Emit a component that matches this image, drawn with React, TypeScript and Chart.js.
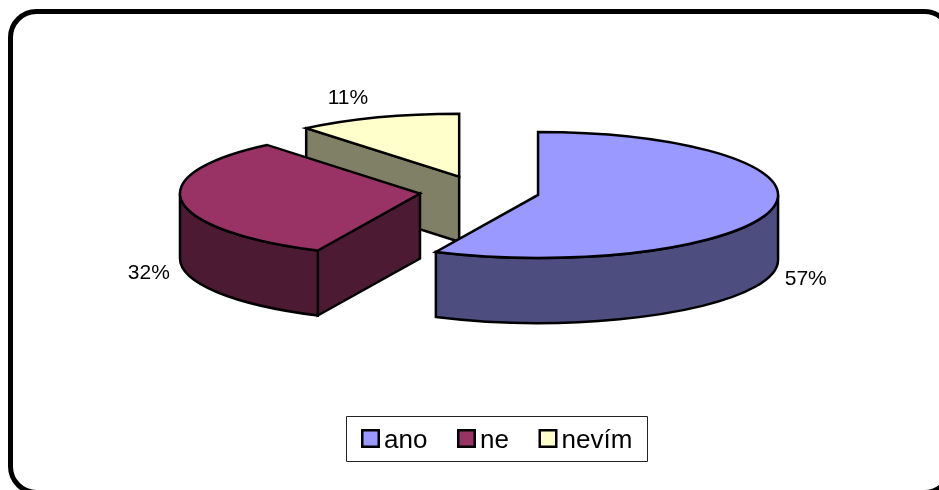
import React, { useEffect, useRef } from "react";
import { Chart, registerables } from "chart.js";

Chart.register(...registerables);

const categories = ["ano", "ne", "nevím"];
const shares = [57, 32, 11];
const sliceColors = ["#9999FF", "#993366", "#FFFFCC"];

const FONT = '"Liberation Sans", Arial, sans-serif';
const TILT = 0.2625; // vertical squash of the pie disc
const DEPTH = 65; // height of the extruded wall
const EXPLODE = 60; // how far slices are pulled from the centre
const CENTER_Y = 191.5;
const OUTLINE = 2.5;
// Label offsets from the outer rim of each slice's middle angle
const LABEL_SHIFT: [number, number][] = [
  [33.5, 71],
  [-33, 72],
  [-30, -19],
];

const shade = (hex: string) => {
  const n = parseInt(hex.slice(1), 16);
  const half = (v: number) => Math.round(v / 2);
  return `rgb(${half((n >> 16) & 255)},${half((n >> 8) & 255)},${half(n & 255)})`;
};

// Frame with rounded corners that runs off the right and bottom edges
const framePlugin = {
  id: "frame",
  beforeDraw(chart: Chart) {
    const ctx = chart.ctx;
    ctx.save();
    ctx.fillStyle = "#FFFFFF";
    ctx.fillRect(0, 0, chart.width, chart.height);
    ctx.beginPath();
    ctx.roundRect(10.5, 11.5, 940, 481, 26);
    ctx.lineWidth = 5;
    ctx.strokeStyle = "#000000";
    ctx.stroke();
    ctx.restore();
  },
};

// Draws the pie's arc elements as tilted, exploded, extruded slices
const pie3dPlugin = {
  id: "pie3d",
  beforeDatasetsDraw(chart: Chart) {
    const ctx = chart.ctx;
    const arcs = chart.getDatasetMeta(0).data as any[];
    const colors = chart.data.datasets[0].backgroundColor as string[];

    const slices = arcs.map((arc, i) => {
      const { startAngle, endAngle, x, outerRadius } = arc.getProps(
        ["startAngle", "endAngle", "x", "outerRadius"],
        true,
      );
      const mid = (startAngle + endAngle) / 2;
      return {
        i,
        start: startAngle,
        end: endAngle,
        mid,
        rx: outerRadius,
        ry: outerRadius * TILT,
        cx: x + Math.cos(mid) * EXPLODE,
        cy: CENTER_Y + Math.sin(mid) * EXPLODE * TILT,
      };
    });

    ctx.save();
    ctx.lineJoin = "miter";
    ctx.lineWidth = OUTLINE;
    ctx.strokeStyle = "#000000";

    // Painted back to front: the last slice sits furthest from the viewer
    [...slices].reverse().forEach((s) => {
      const wall = shade(colors[s.i]);
      const cutFace = (t: number) => {
        ctx.beginPath();
        ctx.moveTo(s.cx, s.cy);
        ctx.lineTo(s.cx + s.rx * Math.cos(t), s.cy + s.ry * Math.sin(t));
        ctx.lineTo(s.cx + s.rx * Math.cos(t), s.cy + s.ry * Math.sin(t) + DEPTH);
        ctx.lineTo(s.cx, s.cy + DEPTH);
        ctx.closePath();
        ctx.fillStyle = wall;
        ctx.fill();
        ctx.stroke();
      };
      if (Math.cos(s.start) < -1e-6) cutFace(s.start);
      if (Math.cos(s.end) > 1e-6) cutFace(s.end);

      // Rim wall, only where it faces the viewer
      const t0 = Math.max(s.start, 0);
      const t1 = Math.min(s.end, Math.PI);
      if (t1 > t0) {
        ctx.beginPath();
        ctx.ellipse(s.cx, s.cy, s.rx, s.ry, 0, t0, t1);
        ctx.ellipse(s.cx, s.cy + DEPTH, s.rx, s.ry, 0, t1, t0, true);
        ctx.closePath();
        ctx.fillStyle = wall;
        ctx.fill();
        ctx.stroke();
      }

      ctx.beginPath();
      ctx.moveTo(s.cx, s.cy);
      ctx.ellipse(s.cx, s.cy, s.rx, s.ry, 0, s.start, s.end);
      ctx.closePath();
      ctx.fillStyle = colors[s.i];
      ctx.fill();
      ctx.stroke();
    });

    // Percentage labels
    ctx.fillStyle = "#000000";
    ctx.font = `21px ${FONT}`;
    ctx.textAlign = "center";
    ctx.textBaseline = "middle";
    slices.forEach((s) => {
      const value = chart.data.datasets[0].data[s.i] as number;
      const [dx, dy] = LABEL_SHIFT[s.i];
      ctx.fillText(
        `${value}%`,
        s.cx + s.rx * Math.cos(s.mid) + dx,
        s.cy + s.ry * Math.sin(s.mid) + dy,
      );
    });
    ctx.restore();
    return false;
  },
};

// Boxed legend under the pie
const legendPlugin = {
  id: "boxedLegend",
  afterDraw(chart: Chart) {
    const ctx = chart.ctx;
    const labels = chart.data.labels as string[];
    const colors = chart.data.datasets[0].backgroundColor as string[];
    ctx.save();
    ctx.fillStyle = "#FFFFFF";
    ctx.strokeStyle = "#222222";
    ctx.lineWidth = 1;
    ctx.beginPath();
    ctx.rect(346.5, 416.5, 301, 45);
    ctx.fill();
    ctx.stroke();

    ctx.font = `26px ${FONT}`;
    ctx.textAlign = "left";
    ctx.textBaseline = "alphabetic";
    let x = 361;
    labels.forEach((label, i) => {
      ctx.beginPath();
      ctx.rect(x + 1.25, 430.25, 16.5, 16.5);
      ctx.fillStyle = colors[i];
      ctx.fill();
      ctx.lineWidth = 2.5;
      ctx.strokeStyle = "#000000";
      ctx.stroke();
      ctx.fillStyle = "#000000";
      ctx.fillText(label, x + 23, 448);
      x += 23 + ctx.measureText(label).width + 29.6;
    });
    ctx.restore();
  },
};

export default function App() {
  const canvasRef = useRef<HTMLCanvasElement>(null);

  useEffect(() => {
    document.body.style.margin = "0";
    const chart = new Chart(canvasRef.current!, {
      type: "pie",
      data: {
        labels: categories,
        datasets: [
          {
            data: shares,
            backgroundColor: sliceColors,
            borderColor: "#000000",
            borderWidth: OUTLINE,
          },
        ],
      },
      options: {
        animation: false,
        responsive: false,
        radius: 240,
        layout: { padding: { left: 20 } },
        plugins: { legend: { display: false }, tooltip: { enabled: false } },
      },
      plugins: [framePlugin, pie3dPlugin, legendPlugin],
    } as any);
    return () => chart.destroy();
  }, []);

  return <canvas ref={canvasRef} width={939} height={490} style={{ display: "block" }} />;
}
